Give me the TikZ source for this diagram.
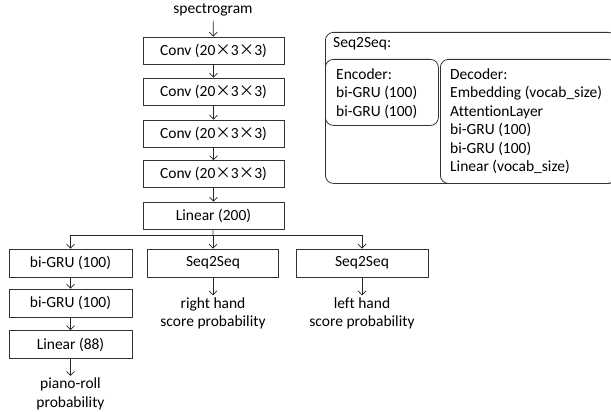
\documentclass[tikz,border=0pt]{standalone}
\usepackage{fontspec}
\setmainfont{Carlito}[Ligatures={NoCommon}]
\newfontfamily\cjkfont{Noto Sans CJK SC}
\usetikzlibrary{arrows.meta, positioning}

% full-width multiplication sign between kernel sizes
\newcommand{\kx}{{\cjkfont ×}}

\begin{document}
\begin{tikzpicture}[
		x=1pt, y=-1pt,
		font=\fontsize{15.5}{18.4}\selectfont,
		layer/.style={draw=black!80, line width=0.8pt, rectangle, inner sep=0pt, minimum width=141pt, minimum height=27pt},
		head/.style={layer, minimum height=28pt},
		outtext/.style={align=center, inner sep=2pt},
		panel/.style={draw=black!80, line width=0.8pt, rounded corners=8pt, inner sep=0pt, anchor=north west},
		listing/.style={align=left, anchor=north west, inner sep=0pt},
		arrow/.style={-{Straight Barb[length=4pt, width=8pt]}, line width=0.7pt, black!85}
		]
		\useasboundingbox (0,0) rectangle (611,412);
		
		% CNN front end
		\node[inner sep=4pt] (spec) at (213,10) {spectrogram};
		\node[layer] (conv1) at (213.5,50.5) {Conv (20\kx3\kx3)};
		\node[layer] (conv2) at (213.5,91.5) {Conv (20\kx3\kx3)};
		\node[layer] (conv3) at (213.5,133.5) {Conv (20\kx3\kx3)};
		\node[layer] (conv4) at (213.5,174) {Conv (20\kx3\kx3)};
		\node[layer] (lin) at (213.5,215.5) {Linear (200)};
		
		\draw[arrow] (spec) -- (conv1);
		\draw[arrow] (conv1) -- (conv2);
		\draw[arrow] (conv2) -- (conv3);
		\draw[arrow] (conv3) -- (conv4);
		\draw[arrow] (conv4) -- (lin);
		
		% three output heads
		\node[head, minimum width=123pt] (gru1) at (70.5,263) {bi-GRU (100)};
		\node[head, minimum width=123pt] (gru2) at (70.5,303) {bi-GRU (100)};
		\node[head, minimum width=123pt] (lin88) at (70.5,344.5) {Linear (88)};
		\node[head, minimum width=131pt] (rseq) at (213,263) {Seq2Seq};
		\node[head, minimum width=132pt] (lseq) at (362,263) {Seq2Seq};
		
		\node[outtext] (roll) at (70.5,394) {piano-roll\\probability};
		\node[outtext] (rhand) at (213,313.5) {right hand\\score probability};
		\node[outtext] (lhand) at (362,313.5) {left hand\\score probability};
		
		\coordinate (split) at (213,235);
		\draw[line width=0.7pt, black!85] (lin) -- (split);
		\draw[arrow] (split) -| (gru1);
		\draw[arrow] (split) -- (rseq);
		\draw[arrow] (split) -| (lseq);
		\draw[arrow] (gru1) -- (gru2);
		\draw[arrow] (gru2) -- (lin88);
		\draw[arrow] (lin88) -- (roll);
		\draw[arrow] (rseq) -- (rhand);
		\draw[arrow] (lseq) -- (lhand);
		
		% Seq2Seq detail
		\node[panel, minimum width=291pt, minimum height=151pt] (seq) at (325,32) {};
		\node[panel, minimum width=113pt, minimum height=66pt] (enc) at (325,59) {};
		\node[panel, minimum width=176pt, minimum height=124pt] (dec) at (440,59) {};
		\node[anchor=base west, inner sep=0pt] (seqtitle) at (333,47.5) {Seq2Seq:};
		\node[listing] (enctext) at (336,68.5) {Encoder:\\bi-GRU (100)\\bi-GRU (100)};
		\node[listing] (dectext) at (450,68.5) {Decoder:\\Embedding (vocab\_size)\\AttentionLayer\\bi-GRU (100)\\bi-GRU (100)\\Linear (vocab\_size)};
	\end{tikzpicture}
\end{document}
